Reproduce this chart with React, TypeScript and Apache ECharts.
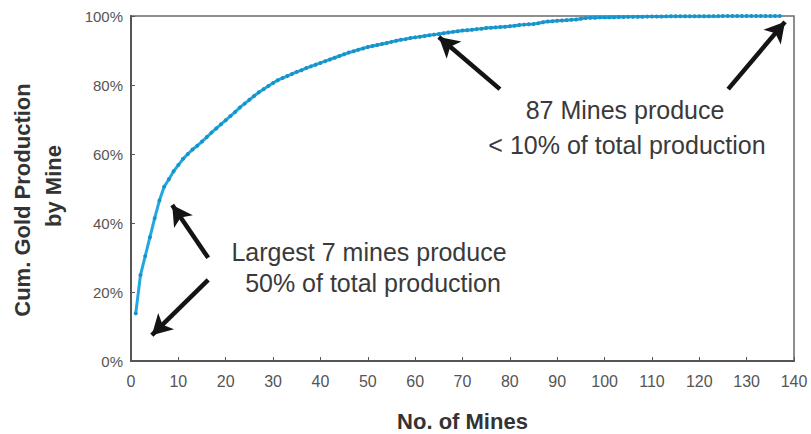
import React, { useEffect, useRef } from "react";
import * as echarts from "echarts";

// Cumulative share of gold production (%) by mine rank (mine 1..137)
const cumShare: number[] = [
  13.8, 24.9, 30.4, 35.9, 41.4, 46.5, 50.5, 52.7, 55.0, 56.8,
  58.6, 60.0, 61.3, 62.4, 63.6, 64.9, 66.2, 67.4, 68.6, 69.8,
  71.0, 72.2, 73.5, 74.6, 75.7, 76.8, 77.9, 78.8, 79.7, 80.6,
  81.4, 82.0, 82.6, 83.2, 83.8, 84.3, 84.9, 85.4, 85.9, 86.4,
  86.9, 87.4, 87.9, 88.4, 88.9, 89.4, 89.8, 90.2, 90.6, 91.0,
  91.3, 91.6, 91.9, 92.2, 92.5, 92.8, 93.1, 93.3, 93.6, 93.8,
  94.0, 94.2, 94.4, 94.6, 94.8, 95.0, 95.2, 95.4, 95.6, 95.8,
  95.9, 96.0, 96.2, 96.3, 96.5, 96.6, 96.7, 96.8, 96.9, 97.0,
  97.2, 97.4, 97.5, 97.6, 97.7, 97.9, 98.2, 98.4, 98.5, 98.6,
  98.7, 98.8, 98.9, 99.0, 99.2, 99.4, 99.5, 99.5, 99.6, 99.6,
  99.6, 99.65, 99.7, 99.7, 99.75, 99.75, 99.8, 99.8, 99.82, 99.85,
  99.87, 99.88, 99.89, 99.9, 99.9, 99.91, 99.92, 99.93, 99.94, 99.94,
  99.95, 99.95, 99.96, 99.96, 99.97, 99.97, 99.98, 99.98, 99.98, 99.99,
  99.99, 99.99, 99.99, 100, 100, 100, 100,
];

const mineRanks: number[] = cumShare.map((_, i) => i + 1);

// Annotation arrows in data coordinates: [fromX, fromY, toX, toY]
const arrows: number[][] = [
  [16.3, 29.9, 8.7, 45.2],
  [16.3, 23.5, 4.4, 7.5],
  [77.9, 78.8, 65.0, 93.9],
  [126.1, 78.8, 138.1, 98.3],
];

const annotations = [
  { text: "Largest 7 mines produce", x: 369, y: 252 },
  { text: "50% of total production", x: 373, y: 283 },
  { text: "87 Mines produce", x: 625, y: 110 },
  { text: "< 10% of total production", x: 627, y: 145 },
];

export default function App() {
  const ref = useRef<HTMLDivElement>(null);
  useEffect(() => {
    if (!ref.current) return;
    document.body.style.margin = "0";
    const chart = echarts.init(ref.current, null, { renderer: "svg" });
    const font = "Liberation Sans, Arial, sans-serif";
    chart.setOption({
      animation: false,
      backgroundColor: "#ffffff",
      grid: {
        left: 131,
        right: 17,
        top: 16,
        bottom: 73,
        outerBoundsMode: "none",
        containLabel: false,
        show: true,
        borderColor: "#6a6a6a",
        borderWidth: 1.5,
        backgroundColor: "transparent",
      },
      xAxis: {
        type: "value",
        min: 0,
        max: 140,
        interval: 10,
        name: "No. of Mines",
        nameLocation: "middle",
        nameGap: 49,
        nameTextStyle: { fontFamily: font, fontWeight: "bold", fontSize: 22, lineHeight: 22, color: "#333" },
        axisLine: { show: true, lineStyle: { color: "#555", width: 2 } },
        axisTick: { show: true, inside: true, length: 4, lineStyle: { color: "#555" } },
        axisLabel: { fontFamily: font, fontSize: 16, color: "#555", margin: 12 },
        splitLine: { show: false },
      },
      yAxis: {
        type: "value",
        min: 0,
        max: 100,
        interval: 20,
        axisLine: { show: true, lineStyle: { color: "#555", width: 2 } },
        axisTick: { show: true, inside: true, length: 4, lineStyle: { color: "#555" } },
        axisLabel: { fontFamily: font, fontSize: 15, color: "#555", margin: 8, formatter: "{value}%" },
        splitLine: { show: false },
      },
      series: [
        {
          type: "line",
          data: mineRanks.map((x, i) => [x, cumShare[i]]),
          symbol: "circle",
          symbolSize: 4,
          showSymbol: true,
          lineStyle: { color: "#20a8e0", width: 3 },
          itemStyle: { color: "#1a92c8" },
          markLine: {
            silent: true,
            symbol: ["none", "arrow"],
            symbolSize: [17, 20],
            label: { show: false },
            lineStyle: { color: "#141414", width: 4.5, type: "solid" },
            data: arrows.map((a) => [
              { coord: [a[0], a[1]] },
              { coord: [a[2], a[3]] },
            ]),
          },
        },
      ],
      graphic: [
        {
          type: "text",
          x: 22,
          y: 200,
          rotation: Math.PI / 2,
          style: {
            text: "Cum. Gold Production",
            fontFamily: font,
            fontWeight: "bold",
            fontSize: 22,
            fill: "#333",
            textAlign: "center",
            textVerticalAlign: "middle",
          },
        },
        {
          type: "text",
          x: 53,
          y: 186,
          rotation: Math.PI / 2,
          style: {
            text: "by Mine",
            fontFamily: font,
            fontWeight: "bold",
            fontSize: 22,
            fill: "#333",
            textAlign: "center",
            textVerticalAlign: "middle",
          },
        },
        ...annotations.map((a) => ({
          type: "text",
          x: a.x,
          y: a.y,
          style: {
            text: a.text,
            fontFamily: font,
            fontSize: 25,
            fill: "#3a3a3a",
            textAlign: "center",
            textVerticalAlign: "middle",
          },
        })),
      ],
    });
    return () => chart.dispose();
  }, []);
  return <div ref={ref} style={{ width: 811, height: 434 }} />;
}
